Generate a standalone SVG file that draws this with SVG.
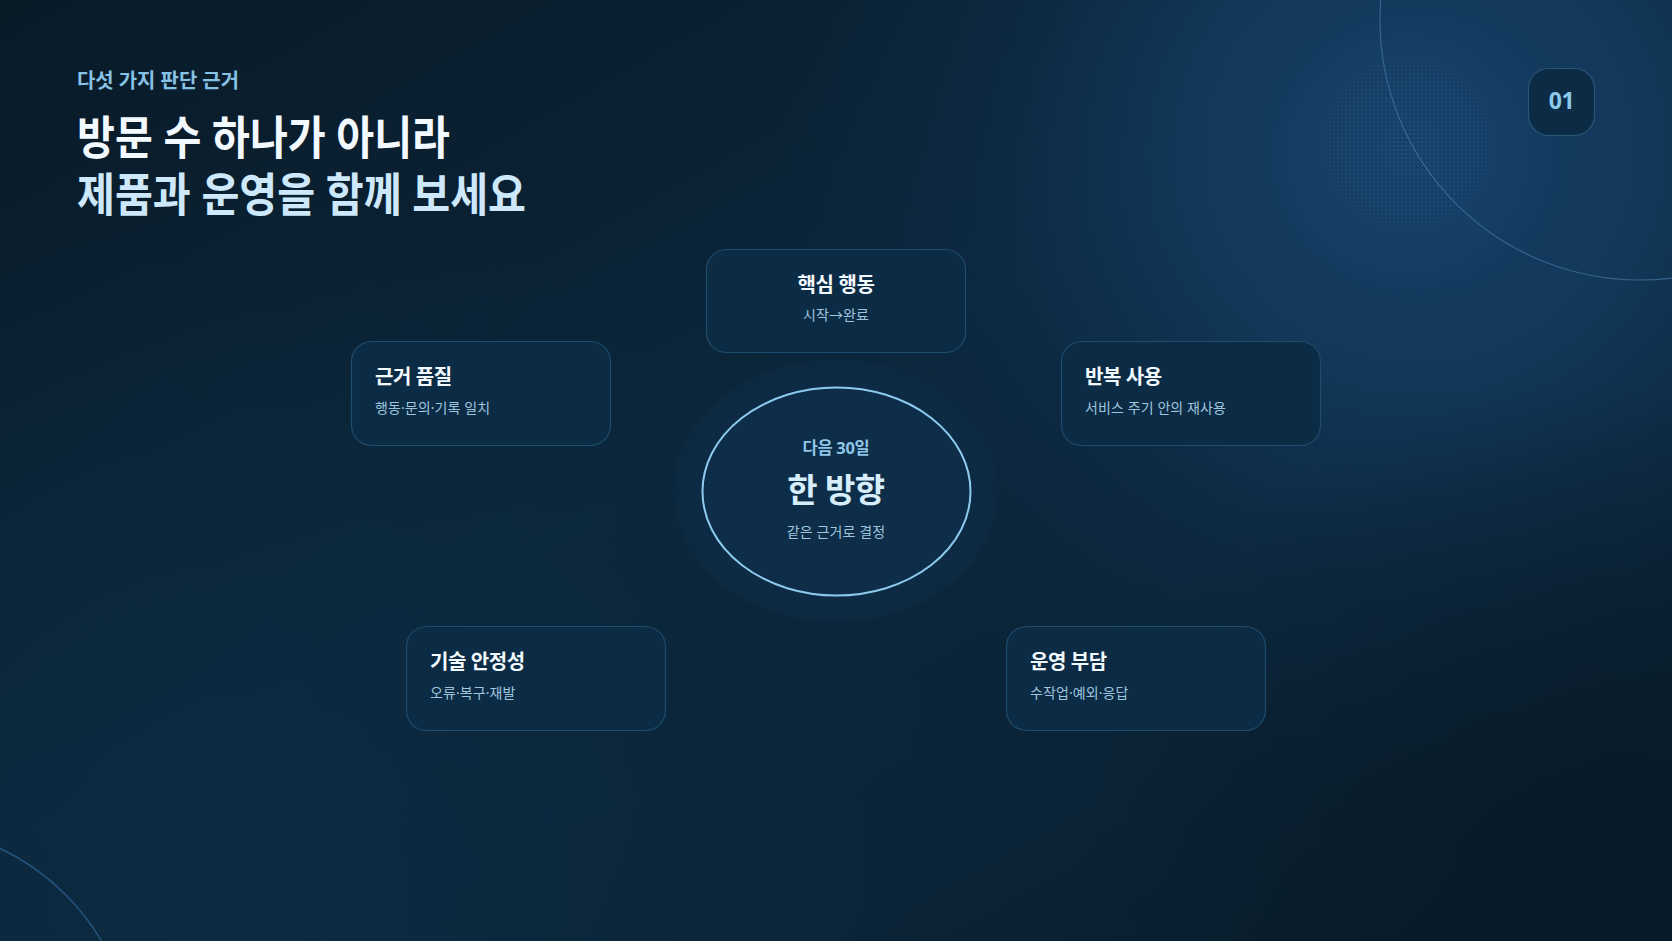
<svg xmlns="http://www.w3.org/2000/svg" width="1672" height="941" viewBox="0 0 1672 941">
<defs>
<linearGradient id="bgBase" x1="0" y1="0" x2="1" y2="1">
<stop offset="0" stop-color="#091a27"/>
<stop offset="0.45" stop-color="#0b263b"/>
<stop offset="0.75" stop-color="#0b2336"/>
<stop offset="1" stop-color="#081b29"/>
</linearGradient>
<radialGradient id="glowTR" cx="1420" cy="150" r="640" gradientUnits="userSpaceOnUse">
<stop offset="0" stop-color="#154067" stop-opacity="1"/>
<stop offset="0.35" stop-color="#133a5d" stop-opacity="0.9"/>
<stop offset="0.7" stop-color="#103150" stop-opacity="0.35"/>
<stop offset="1" stop-color="#0e2c48" stop-opacity="0"/>
</radialGradient>
<radialGradient id="glowBL" cx="250" cy="900" r="700" gradientUnits="userSpaceOnUse">
<stop offset="0" stop-color="#0c2b42" stop-opacity="0.9"/>
<stop offset="1" stop-color="#0c2b42" stop-opacity="0"/>
</radialGradient>
<radialGradient id="darkBR" cx="1600" cy="900" r="520" gradientUnits="userSpaceOnUse">
<stop offset="0" stop-color="#071926" stop-opacity="0.9"/>
<stop offset="1" stop-color="#071926" stop-opacity="0"/>
</radialGradient>
<radialGradient id="softDisc" cx="1405" cy="155" r="135" gradientUnits="userSpaceOnUse">
<stop offset="0" stop-color="#16426b" stop-opacity="0.45"/>
<stop offset="0.85" stop-color="#16426b" stop-opacity="0.3"/>
<stop offset="1" stop-color="#16426b" stop-opacity="0"/>
</radialGradient>
<radialGradient id="halftoneMask" cx="1407" cy="143" r="95" gradientUnits="userSpaceOnUse">
<stop offset="0" stop-color="#fff" stop-opacity="0.8"/>
<stop offset="0.75" stop-color="#fff" stop-opacity="0.5"/>
<stop offset="1" stop-color="#fff" stop-opacity="0"/>
</radialGradient>
<pattern id="dots" width="4" height="4" patternUnits="userSpaceOnUse">
<circle cx="2" cy="2" r="0.75" fill="#5c93bd"/>
</pattern>
<mask id="dotMask">
<rect x="1280" y="30" width="260" height="240" fill="url(#halftoneMask)"/>
</mask>
<radialGradient id="haloGrad" cx="0.5" cy="0.5" r="0.5">
<stop offset="0" stop-color="#0e2e49"/>
<stop offset="0.9" stop-color="#0d2b44"/>
<stop offset="1" stop-color="#0c2940"/>
</radialGradient>
<style>
.card{fill:#0c2c46;stroke:#1f4b6c;stroke-width:1.2}
.ttl{font-family:"Noto Sans","Noto Sans CJK KR",sans-serif;font-weight:700;font-size:20px;fill:#f3faff;letter-spacing:-0.4px}
.sub{font-family:"Noto Sans","Noto Sans CJK KR",sans-serif;font-weight:400;font-size:14px;fill:#9fc5df;letter-spacing:0.1px}
.head{font-family:"Noto Sans","Noto Sans CJK KR",sans-serif;font-weight:700}
</style>
</defs>

<!-- background -->
<rect x="0" y="0" width="1672" height="941" fill="url(#bgBase)"/>
<rect x="0" y="0" width="1672" height="941" fill="url(#glowBL)"/>
<rect x="0" y="0" width="1672" height="941" fill="url(#glowTR)"/>
<rect x="0" y="0" width="1672" height="941" fill="url(#darkBR)"/>
<circle cx="1405" cy="155" r="135" fill="url(#softDisc)"/>
<rect x="1280" y="30" width="260" height="240" fill="url(#dots)" mask="url(#dotMask)" opacity="0.6"/>
<circle cx="1640" cy="20" r="260" fill="none" stroke="#3e6f98" stroke-width="1.2" opacity="0.8"/>
<circle cx="-100" cy="1060" r="234" fill="none" stroke="#25567e" stroke-width="1.5"/>

<!-- header -->
<g id="header">
<text x="77" y="88" class="head" font-size="20" fill="#86c1e6" textLength="162" lengthAdjust="spacingAndGlyphs">다섯 가지 판단 근거</text>
<text x="77" y="154" class="head" font-size="46" fill="#f2f9ff" textLength="373" lengthAdjust="spacingAndGlyphs">방문 수 하나가 아니라</text>
<text x="77" y="211" class="head" font-size="46" fill="#cde8fb" textLength="449" lengthAdjust="spacingAndGlyphs">제품과 운영을 함께 보세요</text>
</g>

<g id="badge">
<rect x="1528.5" y="68.5" width="66" height="67" rx="20" fill="#0c2c46" stroke="#2a5678" stroke-width="1.2"/>
<text x="1561.5" y="109" text-anchor="middle" class="head" font-size="23" fill="#8cc8ec" letter-spacing="-0.5">01</text>
</g>

<g id="connectors"></g>

<g id="center">
<ellipse cx="836" cy="491" rx="163" ry="132" fill="url(#haloGrad)" opacity="0.9"/>
<ellipse cx="836.5" cy="491.5" rx="134" ry="104" fill="#0d2d48" stroke="#8ccbee" stroke-width="2"/>
<text x="836" y="454" text-anchor="middle" class="head" font-size="16.5" fill="#8ec5e8" letter-spacing="-0.3">다음 30일</text>
<text x="836" y="502" text-anchor="middle" class="head" font-size="33" fill="#d6edfc" letter-spacing="-0.6">한 방향</text>
<text x="836" y="537" text-anchor="middle" class="sub" font-size="14.5" fill="#a6cde6" letter-spacing="-0.2">같은 근거로 결정</text>
</g>

<g id="node-core">
<rect class="card" x="706.5" y="249.5" width="259" height="103" rx="20"/>
<text class="ttl" x="836" y="292" text-anchor="middle">핵심 행동</text>
<text class="sub" x="836" y="320" text-anchor="middle">시작→완료</text>
</g>

<g id="node-evidence">
<rect class="card" x="351.5" y="341.5" width="259" height="104" rx="20"/>
<text class="ttl" x="375" y="384">근거 품질</text>
<text class="sub" x="375" y="413">행동·문의·기록 일치</text>
</g>

<g id="node-repeat">
<rect class="card" x="1061.5" y="341.5" width="259" height="104" rx="20"/>
<text class="ttl" x="1085" y="384">반복 사용</text>
<text class="sub" x="1085" y="413">서비스 주기 안의 재사용</text>
</g>

<g id="node-tech">
<rect class="card" x="406.5" y="626.5" width="259" height="104" rx="20"/>
<text class="ttl" x="430" y="669">기술 안정성</text>
<text class="sub" x="430" y="698">오류·복구·재발</text>
</g>

<g id="node-ops">
<rect class="card" x="1006.5" y="626.5" width="259" height="104" rx="20"/>
<text class="ttl" x="1030" y="669">운영 부담</text>
<text class="sub" x="1030" y="698">수작업·예외·응답</text>
</g>
</svg>
